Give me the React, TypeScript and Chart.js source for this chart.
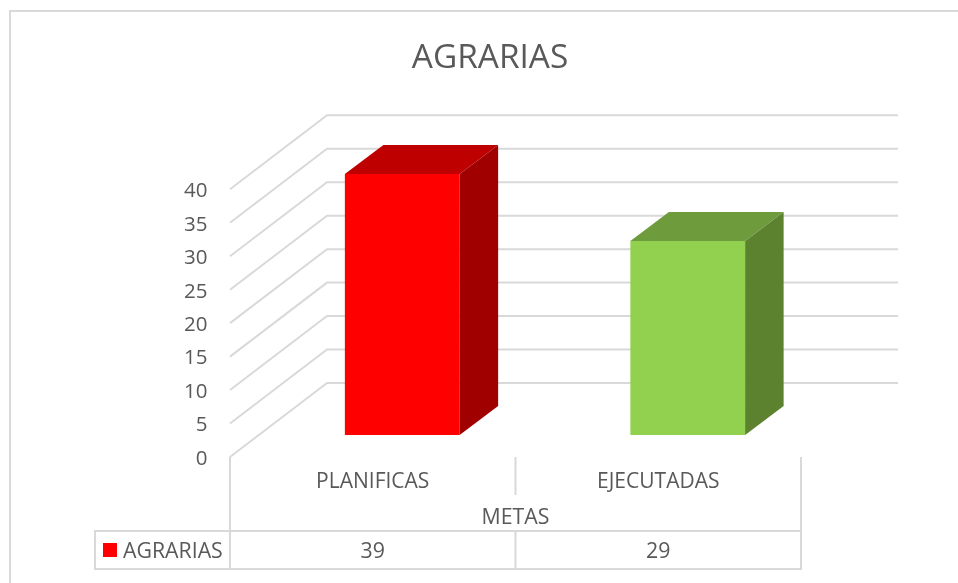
import React, { useEffect, useRef } from "react";
import { Chart, registerables } from "chart.js";

Chart.register(...registerables);

const chartTitle = "AGRARIAS";
const axisTitle = "METAS";
const seriesName = "AGRARIAS";
const categories = ["PLANIFICAS", "EJECUTADAS"];
const seriesValues = [39, 29];
const faceColors = ["#FF0000", "#92D050"];
const topColors = ["#BF0000", "#6E9C3C"];
const sideColors = ["#A00000", "#5C8230"];

const FONT = "'Open Sans', sans-serif";
const TEXT = "#595959";
const LINE = "#D9D9D9";
const FRONT = { x: -29.5, y: 24 };
const BACK = { x: 67.5, y: -52 };
const BAR_DEPTH = { x: 38.5, y: -29 };
const TABLE = { left: 95, bandTop: 457, midBottom: 495, rowTop: 531, rowBottom: 569 };

const threeD = {
  id: "threeD",
  beforeDraw(chart: any) {
    const { ctx, width } = chart;
    ctx.save();
    ctx.strokeStyle = LINE;
    ctx.lineWidth = 2;
    ctx.beginPath();
    ctx.moveTo(width, 11);
    ctx.lineTo(10, 11);
    ctx.lineTo(10, 583);
    ctx.stroke();
    ctx.restore();
  },
  beforeDatasetsDraw(chart: any) {
    const { ctx, chartArea, scales } = chart;
    const y = scales.y;
    ctx.save();
    ctx.strokeStyle = LINE;
    ctx.lineWidth = 2;
    y.ticks.forEach((t: any) => {
      const p = y.getPixelForValue(t.value);
      ctx.beginPath();
      ctx.moveTo(chartArea.left + FRONT.x, p + 22);
      ctx.lineTo(chartArea.left + BACK.x, p + BACK.y);
      ctx.lineTo(chartArea.right + BACK.x, p + BACK.y);
      ctx.stroke();
    });
    ctx.restore();
  },
  afterDatasetsDraw(chart: any) {
    const { ctx } = chart;
    const bars = chart.getDatasetMeta(0).data;
    ctx.save();
    bars.forEach((b: any, i: number) => {
      const l = b.x - b.width / 2;
      const r = b.x + b.width / 2;
      const top = b.y;
      const bottom = b.base;
      ctx.fillStyle = topColors[i];
      ctx.beginPath();
      ctx.moveTo(l, top);
      ctx.lineTo(l + BAR_DEPTH.x, top + BAR_DEPTH.y);
      ctx.lineTo(r + BAR_DEPTH.x, top + BAR_DEPTH.y);
      ctx.lineTo(r, top);
      ctx.closePath();
      ctx.fill();
      ctx.fillStyle = sideColors[i];
      ctx.beginPath();
      ctx.moveTo(r, top);
      ctx.lineTo(r + BAR_DEPTH.x, top + BAR_DEPTH.y);
      ctx.lineTo(r + BAR_DEPTH.x, bottom + BAR_DEPTH.y);
      ctx.lineTo(r, bottom);
      ctx.closePath();
      ctx.fill();
    });
    ctx.restore();
  },
  afterDraw(chart: any) {
    const { ctx, chartArea } = chart;
    const left = chartArea.left + FRONT.x;
    const right = chartArea.right + FRONT.x;
    const mid = (left + right) / 2;
    const { bandTop, midBottom, rowTop, rowBottom } = TABLE;
    ctx.save();
    ctx.strokeStyle = LINE;
    ctx.lineWidth = 2;
    ctx.beginPath();
    ctx.moveTo(left, bandTop);
    ctx.lineTo(left, rowBottom);
    ctx.moveTo(right, bandTop);
    ctx.lineTo(right, rowBottom);
    ctx.moveTo(mid, bandTop);
    ctx.lineTo(mid, midBottom);
    ctx.moveTo(mid, rowTop);
    ctx.lineTo(mid, rowBottom);
    ctx.rect(TABLE.left, rowTop, right - TABLE.left, rowBottom - rowTop);
    ctx.stroke();

    ctx.fillStyle = TEXT;
    ctx.font = `21.3px ${FONT}`;
    ctx.textAlign = "center";
    ctx.textBaseline = "middle";
    ctx.fillText(axisTitle, mid, 518);
    seriesValues.forEach((v, i) => {
      const cx = left + ((right - left) * (i + 0.5)) / categories.length;
      ctx.fillText(String(v), cx, 552);
    });
    ctx.textAlign = "left";
    ctx.fillText(seriesName, 123, 552);
    ctx.fillStyle = faceColors[0];
    ctx.fillRect(103, 543, 14, 14);
    ctx.restore();
  },
};

export default function App() {
  const ref = useRef<HTMLCanvasElement>(null);

  useEffect(() => {
    const chart = new Chart(ref.current!, {
      type: "bar",
      data: {
        labels: categories,
        datasets: [
          {
            label: seriesName,
            data: seriesValues,
            backgroundColor: faceColors,
            categoryPercentage: 1,
            barPercentage: 0.402,
          },
        ],
      },
      options: {
        animation: false,
        responsive: false,
        layout: { padding: { left: 22, right: 0, top: 0, bottom: 0 } },
        plugins: {
          legend: { display: false },
          tooltip: { enabled: false },
          title: {
            display: true,
            text: chartTitle,
            color: TEXT,
            font: { family: FONT, size: 33.4, weight: "normal" },
            padding: { top: 38, bottom: 89.2 },
          },
        },
        scales: {
          x: {
            grid: { display: false, drawTicks: false },
            border: { display: false },
            afterFit: (s: any) => { s.height = 148; },
            ticks: {
              color: TEXT,
              font: { family: FONT, size: 21 },
              padding: 34,
              labelOffset: FRONT.x,
              maxRotation: 0,
              minRotation: 0,
              autoSkip: false,
            },
          },
          y: {
            min: 0,
            max: 40,
            grid: { display: false, drawTicks: false },
            border: { display: false },
            afterFit: (s: any) => { s.width = 237.5; },
            ticks: {
              stepSize: 5,
              color: TEXT,
              font: { family: FONT, size: 20.5 },
              padding: 52,
              labelOffset: FRONT.y,
            },
          },
          spacer: {
            position: "right",
            grid: { display: false, drawTicks: false },
            border: { display: false },
            ticks: { display: false },
            afterFit: (s: any) => { s.width = 127.5; },
          },
        },
      },
      plugins: [threeD],
    } as any);
    return () => chart.destroy();
  }, []);

  return (
    <div style={{ position: "fixed", left: 0, top: 0, width: 958, height: 583, background: "#fff" }}>
      <canvas ref={ref} width={958} height={583} style={{ display: "block" }} />
    </div>
  );
}
